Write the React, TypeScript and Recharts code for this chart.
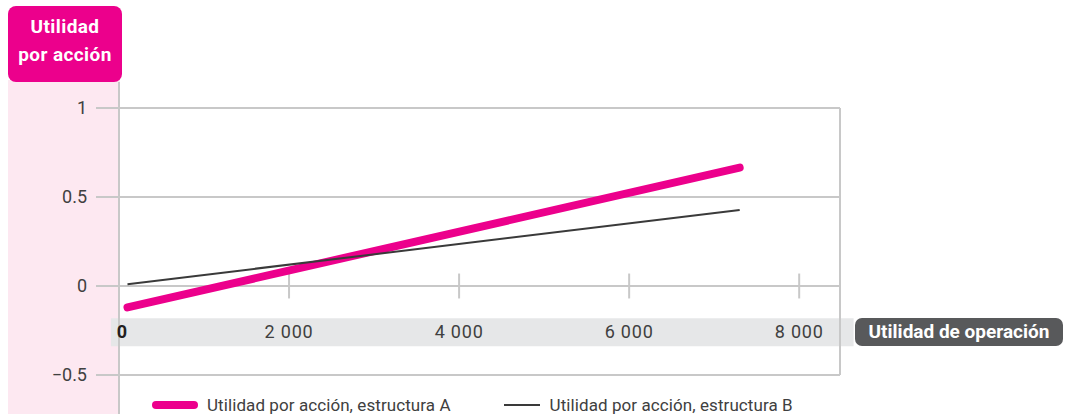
import { LineChart, Line, XAxis, YAxis, CartesianGrid, ReferenceLine, ReferenceArea } from 'recharts'

// utilidad de operación (eje x) y utilidad por acción de cada estructura
const ebit = [100, 7300]
const epsA = [-0.12, 0.665]
const epsB = [0.01, 0.427]
const xTicks = [0, 2000, 4000, 6000, 8000]
const yTicks = [-0.5, 0, 0.5, 1]
const seriesNames = ['Utilidad por acción, estructura A', 'Utilidad por acción, estructura B']
const yTitle = ['Utilidad', 'por acción']
const xTitle = 'Utilidad de operación'

const data = ebit.map((x, i) => ({ x, a: epsA[i], b: epsB[i] }))

const PINK = '#ec008c'
const DARK = '#3a3a3a'
const GRID = '#c8c8c8'
const FONT = 'Roboto, sans-serif'
const X_MAX = 8480

const fmtX = (v: number) => (v >= 1000 ? `${Math.floor(v / 1000)} ${String(v % 1000).padStart(3, '0')}` : String(v))
const fmtY = (v: number) => (v < 0 ? `\u2212${Math.abs(v)}` : String(v))

function XTick(props: any) {
  const { x, y, payload } = props
  const zero = payload.value === 0
  return (
    <text
      x={x}
      y={y - 37}
      dx={zero ? 3 : 0}
      textAnchor="middle"
      fontFamily={FONT}
      fontSize={18}
      letterSpacing={zero ? 0 : 0.8}
      fontWeight={zero ? 700 : 400}
      fill={zero ? '#231f20' : '#404040'}
    >
      {fmtX(payload.value)}
    </text>
  )
}

export default function App() {
  return (
    <div style={{ position: 'absolute', left: 0, top: 0, width: 1065, height: 414, fontFamily: FONT, overflow: 'hidden' }}>
      {/* franja rosa del eje y */}
      <div style={{ position: 'absolute', left: 8, top: 80, width: 112, height: 334, background: '#fde8f1' }} />
      <div
        style={{
          position: 'absolute', left: 8, top: 6, width: 114, height: 76, background: PINK, borderRadius: 8,
          color: '#fff', fontWeight: 700, fontSize: 19, lineHeight: '28px', textAlign: 'center', paddingTop: 7, boxSizing: 'border-box',
          letterSpacing: 0.4,
        }}
      >
        {yTitle.map((t) => <div key={t}>{t}</div>)}
      </div>

      <div style={{ position: 'absolute', left: 0, top: 0 }}>
        <LineChart width={1065} height={414} data={data} margin={{ top: 108, right: 225, bottom: 9, left: 8 }}>
          <CartesianGrid vertical={false} stroke={GRID} strokeWidth={2} />
          <XAxis
            type="number"
            dataKey="x"
            domain={[0, X_MAX]}
            ticks={xTicks}
            allowDataOverflow
            axisLine={false}
            tickLine={false}
            tickSize={0}
            tickMargin={0}
            height={30}
            tick={<XTick />}
            interval={0}
          />
          <YAxis
            type="number"
            domain={[-0.5, 1]}
            ticks={yTicks}
            width={111}
            axisLine={false}
            tickLine={{ stroke: GRID, strokeWidth: 2 }}
            tickSize={23}
            tickMargin={9}
            tickFormatter={fmtY}
            tick={{ fill: '#404040', fontSize: 18, fontFamily: FONT }}
          />
          {/* eje y prolongado y borde derecho */}
          <ReferenceLine segment={[{ x: 0, y: 1.146 }, { x: 0, y: -0.72 }]} ifOverflow="visible" stroke={GRID} strokeWidth={2} />
          <ReferenceLine x={X_MAX} stroke={GRID} strokeWidth={2} />
          {xTicks.filter((v) => v > 0).map((v) => (
            <ReferenceLine key={v} segment={[{ x: v, y: -0.07 }, { x: v, y: 0.07 }]} stroke={GRID} strokeWidth={2} />
          ))}
          {/* banda gris de las etiquetas del eje x */}
          <ReferenceArea x1={-95} x2={8640} y1={-0.339} y2={-0.181} ifOverflow="visible" fill="#e6e7e8" fillOpacity={1} stroke="none" />
          <Line type="linear" dataKey="a" stroke={PINK} strokeWidth={8} strokeLinecap="round" dot={false} isAnimationActive={false} />
          <Line type="linear" dataKey="b" stroke={DARK} strokeWidth={2} dot={false} isAnimationActive={false} />
        </LineChart>
      </div>

      <div
        style={{
          position: 'absolute', left: 855, top: 318, width: 208, height: 28, background: '#58595b', borderRadius: 7,
          color: '#fff', fontWeight: 700, fontSize: 19, lineHeight: '28px', textAlign: 'center',
        }}
      >
        {xTitle}
      </div>

      {/* leyenda */}
      <div style={{ position: 'absolute', left: 152, top: 392, fontSize: 17, letterSpacing: 0.08, color: '#404040', lineHeight: '22px', whiteSpace: 'nowrap' }}>
        <span style={{ display: 'inline-block', width: 46, height: 8, borderRadius: 4, background: PINK, verticalAlign: 'middle', marginRight: 9 }} />
        <span style={{ verticalAlign: 'middle' }}>{seriesNames[0]}</span>
        <span style={{ display: 'inline-block', width: 36, height: 2, background: DARK, verticalAlign: 'middle', marginLeft: 53, marginRight: 10 }} />
        <span style={{ verticalAlign: 'middle' }}>{seriesNames[1]}</span>
      </div>
    </div>
  )
}
